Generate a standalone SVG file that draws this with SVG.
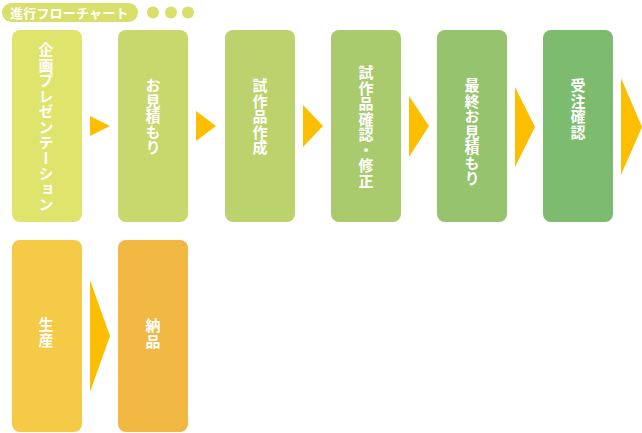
<svg xmlns="http://www.w3.org/2000/svg" width="642" height="433" viewBox="0 0 642 433">
<style>
.lbl{font-family:"Noto Sans CJK JP","Noto Sans",sans-serif;font-weight:bold;font-size:15px;letter-spacing:0.5px;fill:#ffffff;writing-mode:vertical-rl;}
.ttl{font-family:"Noto Sans CJK JP","Noto Sans",sans-serif;font-weight:bold;font-size:13px;letter-spacing:0.2px;fill:#ffffff;}
.arr{fill:#fbbf00;}
</style>
<rect width="642" height="433" fill="#ffffff"/>
<g id="title">
<rect x="2" y="3" width="136" height="19" rx="9.5" fill="#d8df6a"/>
<text class="ttl" x="10" y="17.5">進行フローチャート</text>
<circle cx="153" cy="12.5" r="6" fill="#d8df6a"/>
<circle cx="171" cy="12.5" r="6" fill="#d8df6a"/>
<circle cx="188" cy="12.5" r="6" fill="#d8df6a"/>
</g>
<g id="node1"><rect x="12" y="30" width="70" height="192" rx="8" fill="#dfe46c"/><text class="lbl" x="46" y="42">企画プレゼンテーション</text></g>
<g id="node2"><rect x="118" y="30" width="70" height="192" rx="8" fill="#c9d86c"/><text class="lbl" x="153" y="78">お見積もり</text></g>
<g id="node3"><rect x="225" y="30" width="70" height="192" rx="8" fill="#bcd36d"/><text class="lbl" x="260" y="78">試作品作成</text></g>
<g id="node4"><rect x="331" y="30" width="70" height="192" rx="8" fill="#a9cb6d"/><text class="lbl" x="366" y="65">試作品確認・修正</text></g>
<g id="node5"><rect x="437" y="30" width="70" height="192" rx="8" fill="#95c36e"/><text class="lbl" x="472" y="78">最終お見積もり</text></g>
<g id="node6"><rect x="543" y="30" width="70" height="192" rx="8" fill="#7dbb6e"/><text class="lbl" x="578" y="78">受注確認</text></g>
<g id="node7"><rect x="12" y="240" width="70" height="192" rx="8" fill="#f4ca46"/><text class="lbl" x="46" y="317">生産</text></g>
<g id="node8"><rect x="118" y="240" width="70" height="192" rx="8" fill="#f1b843"/><text class="lbl" x="153" y="318">納品</text></g>
<g id="connectors">
<polygon class="arr" points="90,116 110,126 90,136"/>
<polygon class="arr" points="196,111 216,126 196,141"/>
<polygon class="arr" points="303,105 323,126 303,147"/>
<polygon class="arr" points="409,96 429,126 409,157"/>
<polygon class="arr" points="515,87 535,127 515,167"/>
<polygon class="arr" points="621,78 642,127 621,175"/>
<polygon class="arr" points="90,280 110,336 90,392"/>
</g>
</svg>
